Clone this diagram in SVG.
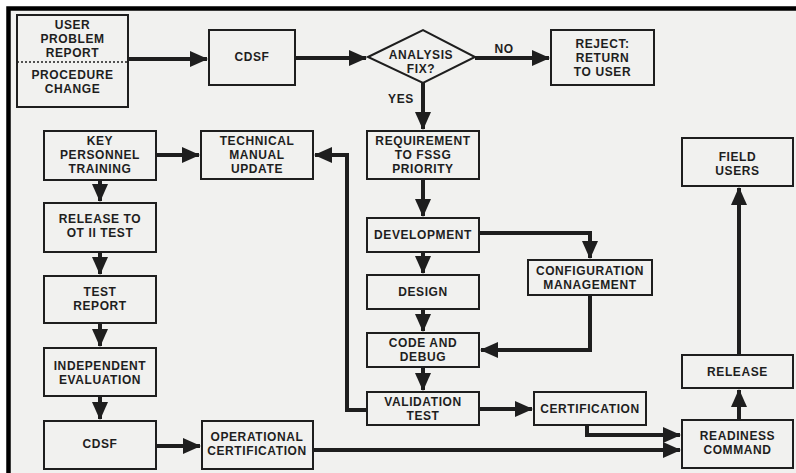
<svg xmlns="http://www.w3.org/2000/svg" width="796" height="473" viewBox="0 0 796 473">
<defs>
<style>
.box{fill:none;stroke:#1e1e1e;stroke-width:2}
.t{font-family:"Liberation Sans",Arial,sans-serif;font-weight:bold;font-size:12px;letter-spacing:0.6px;fill:#1e1e1e;text-anchor:middle}
.c{fill:none;stroke:#1e1e1e;stroke-width:4}
</style>
<marker id="ah" markerUnits="userSpaceOnUse" markerWidth="18" markerHeight="16" refX="17" refY="8" orient="auto">
<path d="M0,0 L18,8 L0,16 z" fill="#1e1e1e"/>
</marker>
</defs>
<rect x="0" y="0" width="796" height="473" fill="#ffffff"/>
<rect x="8.5" y="8.5" width="800" height="480" fill="#f1f1ef" stroke="#000" stroke-width="4.5"/>

<g id="connectors">
<path class="c" d="M128,59 H207" marker-end="url(#ah)"/>
<path class="c" d="M295,58 H366" marker-end="url(#ah)"/>
<path class="c" d="M475,58 H549" marker-end="url(#ah)"/>
<path class="c" d="M423,83 V129" marker-end="url(#ah)"/>
<path class="c" d="M423,179 V216" marker-end="url(#ah)"/>
<path class="c" d="M479,233 H590 V258" marker-end="url(#ah)"/>
<path class="c" d="M423,252 V273" marker-end="url(#ah)"/>
<path class="c" d="M423,309 V331" marker-end="url(#ah)"/>
<path class="c" d="M590,295 V350 H481" marker-end="url(#ah)"/>
<path class="c" d="M423,367 V390" marker-end="url(#ah)"/>
<path class="c" d="M367,410 H347 V155 H315" marker-end="url(#ah)"/>
<path class="c" d="M479,409 H532" marker-end="url(#ah)"/>
<path class="c" d="M587,425 V435 H680" marker-end="url(#ah)"/>
<path class="c" d="M313,450 H680" marker-end="url(#ah)"/>
<path class="c" d="M739,420 V390" marker-end="url(#ah)"/>
<path class="c" d="M739,355 V188" marker-end="url(#ah)"/>
<path class="c" d="M156,155 H199" marker-end="url(#ah)"/>
<path class="c" d="M100,180 V201" marker-end="url(#ah)"/>
<path class="c" d="M100,252 V274" marker-end="url(#ah)"/>
<path class="c" d="M100,323 V346" marker-end="url(#ah)"/>
<path class="c" d="M100,396 V419" marker-end="url(#ah)"/>
<path class="c" d="M156,446 H200" marker-end="url(#ah)"/>
<text class="t" x="504" y="53.3">NO</text>
<text class="t" x="401" y="103.3">YES</text>
</g>

<g id="user-problem-report">
<rect class="box" x="17" y="15" width="111" height="92"/>
<line x1="17" y1="62" x2="128" y2="62" stroke="#1e1e1e" stroke-width="1.5" stroke-dasharray="2,2"/>
<text class="t" x="72.5" y="29.3">USER</text>
<text class="t" x="72.5" y="43.3">PROBLEM</text>
<text class="t" x="72.5" y="57.3">REPORT</text>
<text class="t" x="72.5" y="79.3">PROCEDURE</text>
<text class="t" x="72.5" y="93.3">CHANGE</text>
</g>

<g id="cdsf-top">
<rect class="box" x="209" y="30" width="86" height="55"/>
<text class="t" x="252" y="61.3">CDSF</text>
</g>

<g id="analysis-fix">
<polygon class="box" points="368,57 423,30 475,57 423,83"/>
<text class="t" x="421" y="58.8">ANALYSIS</text>
<text class="t" x="421" y="72.8">FIX?</text>
</g>

<g id="reject">
<rect class="box" x="551" y="30" width="103" height="55"/>
<text class="t" x="602.5" y="48.3">REJECT:</text>
<text class="t" x="602.5" y="62.3">RETURN</text>
<text class="t" x="602.5" y="76.3">TO USER</text>
</g>

<g id="requirement">
<rect class="box" x="367" y="131" width="112" height="48"/>
<text class="t" x="423" y="145.3">REQUIREMENT</text>
<text class="t" x="423" y="159.3">TO FSSG</text>
<text class="t" x="423" y="173.3">PRIORITY</text>
</g>

<g id="development">
<rect class="box" x="367" y="218" width="112" height="34"/>
<text class="t" x="423" y="239.3">DEVELOPMENT</text>
</g>

<g id="design">
<rect class="box" x="367" y="275" width="112" height="34"/>
<text class="t" x="423" y="296.3">DESIGN</text>
</g>

<g id="code-and-debug">
<rect class="box" x="367" y="333" width="112" height="34"/>
<text class="t" x="423" y="347.3">CODE AND</text>
<text class="t" x="423" y="361.3">DEBUG</text>
</g>

<g id="validation-test">
<rect class="box" x="367" y="392" width="112" height="33"/>
<text class="t" x="423" y="406.3">VALIDATION</text>
<text class="t" x="423" y="420.3">TEST</text>
</g>

<g id="configuration-management">
<rect class="box" x="528" y="260" width="124" height="35"/>
<text class="t" x="590" y="275.3">CONFIGURATION</text>
<text class="t" x="590" y="289.3">MANAGEMENT</text>
</g>

<g id="certification">
<rect class="box" x="534" y="392" width="112" height="33"/>
<text class="t" x="590" y="413.3">CERTIFICATION</text>
</g>

<g id="field-users">
<rect class="box" x="682" y="138" width="111" height="48"/>
<text class="t" x="737.5" y="160.8">FIELD</text>
<text class="t" x="737.5" y="174.8">USERS</text>
</g>

<g id="release">
<rect class="box" x="682" y="355" width="111" height="33"/>
<text class="t" x="737.5" y="376.3">RELEASE</text>
</g>

<g id="readiness-command">
<rect class="box" x="682" y="420" width="111" height="48"/>
<text class="t" x="737.5" y="439.8">READINESS</text>
<text class="t" x="737.5" y="453.8">COMMAND</text>
</g>

<g id="key-personnel-training">
<rect class="box" x="44" y="131" width="112" height="49"/>
<text class="t" x="100" y="145.3">KEY</text>
<text class="t" x="100" y="159.3">PERSONNEL</text>
<text class="t" x="100" y="173.3">TRAINING</text>
</g>

<g id="technical-manual-update">
<rect class="box" x="201" y="131" width="112" height="48"/>
<text class="t" x="257" y="145.3">TECHNICAL</text>
<text class="t" x="257" y="159.3">MANUAL</text>
<text class="t" x="257" y="173.3">UPDATE</text>
</g>

<g id="release-to-ot">
<rect class="box" x="44" y="203" width="112" height="49"/>
<text class="t" x="100" y="222.8">RELEASE TO</text>
<text class="t" x="100" y="236.8">OT II TEST</text>
</g>

<g id="test-report">
<rect class="box" x="44" y="276" width="112" height="47"/>
<text class="t" x="100" y="296.3">TEST</text>
<text class="t" x="100" y="310.3">REPORT</text>
</g>

<g id="independent-evaluation">
<rect class="box" x="44" y="348" width="112" height="48"/>
<text class="t" x="100" y="370.3">INDEPENDENT</text>
<text class="t" x="100" y="384.3">EVALUATION</text>
</g>

<g id="cdsf-bottom">
<rect class="box" x="44" y="421" width="112" height="48"/>
<text class="t" x="100" y="448.3">CDSF</text>
</g>

<g id="operational-certification">
<rect class="box" x="202" y="421" width="111" height="48"/>
<text class="t" x="257" y="441.3">OPERATIONAL</text>
<text class="t" x="257" y="455.3">CERTIFICATION</text>
</g>
</svg>
